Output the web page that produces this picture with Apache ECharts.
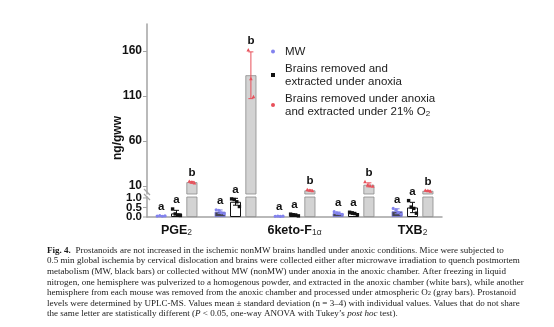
<!DOCTYPE html>
<html><head><meta charset="utf-8">
<script src="https://cdn.jsdelivr.net/npm/echarts@6/dist/echarts.min.js"></script>
<style>html,body{margin:0;padding:0;background:#fff}#c{width:554px;height:327px}</style>
</head><body><div id="c"></div>
<script>
// ---------- data ----------
const categories = ['PGE2', 'PGD2', '6keto-F1α', 'PGF2α', 'TXB2'];
const categoryRich = ['{n|PGE}{s|2}', '{n|PGD}{s|2}', '{n|6keto-F}{s|1α}', '{n|PGF}{s|2α}', '{n|TXB}{s|2}'];
const seriesNames = ['MW', 'Brains removed and\nextracted under anoxia', 'Brains removed under anoxia\nand extracted under 21% O2'];

const mwMean = [0.055, 0.28, 0.04, 0.20, 0.30];
const mwSD = [0.013, 0.09, 0.01, 0.06, 0.13];
const mwPoints = [[0.05, 0.07, 0.04, 0.06], [0.38, 0.35, 0.22, 0.18], [0.04, 0.05, 0.03, 0.05], [0.28, 0.22, 0.18, 0.14], [0.45, 0.38, 0.25, 0.15]];

const anoxMean = [0.19, 0.80, 0.11, 0.19, 0.50];
const anoxSD = [0.16, 0.18, 0.04, 0.05, 0.27];
const anoxPoints = [[0.42, 0.16, 0.10, 0.08], [0.95, 0.92, 0.80, 0.55], [0.15, 0.12, 0.10, 0.06], [0.25, 0.22, 0.18, 0.12], [0.86, 0.52, 0.45, 0.20]];

const o2Mean = [14.1, 133, 5.0, 11.2, 4.5];
const o2SD = [0.9, 26, 0.6, 2.2, 0.5];
const o2Points = [[15.0, 14.0, 13.2], [161, 129, 109], [5.6, 5.0, 4.4], [14.5, 11.0, 10.0, 9.5], [5.0, 4.5, 4.0]];

const letters = [['a', 'a', 'b'], ['a', 'a', 'b'], ['a', 'a', 'b'], ['a', 'a', 'b'], ['a', 'a', 'b']];

const upperTicks = [10, 60, 110, 160];
const lowerTicks = [0, 0.5, 1.0];
const UPPER_MIN = 1, UPPER_MAX = 190, LOWER_MAX = 1.05;

const captionLines = [
  '{b|Fig. 4.}  Prostanoids are not increased in the ischemic nonMW brains handled under anoxic conditions. Mice were subjected to',
  '0.5 min global ischemia by cervical dislocation and brains were collected either after microwave irradiation to quench postmortem',
  'metabolism (MW, black bars) or collected without MW (nonMW) under anoxia in the anoxic chamber. After freezing in liquid',
  'nitrogen, one hemisphere was pulverized to a homogenous powder, and extracted in the anoxic chamber (white bars), while another',
  'hemisphere from each mouse was removed from the anoxic chamber and processed under atmospheric O{sub|2} (gray bars). Prostanoid',
  'levels were determined by UPLC-MS. Values mean ± standard deviation (n = 3–4) with individual values. Values that do not share',
  'the same letter are statistically different ({i|P} < 0.05, one-way ANOVA with Tukey\u2019s {i|post hoc} test).'
];

// ---------- styling ----------
const BAR_W = 11, BAR_GAP = '40%';
const AXIS_COLOR = '#a3a3a3';
const barStyles = [
  { color: '#45454f', borderColor: '#7d7de3', borderWidth: 0.8 },
  { color: '#ffffff', borderColor: '#111111', borderWidth: 1 },
  { color: '#d3d3d3', borderColor: '#8a8a8a', borderWidth: 0.8 }
];
const pointColors = ['#8282ee', '#111111', '#e8505a'];
const errColors = ['#7d7de3', '#111111', '#e8505a'];
const CAP_FS = 9.05;
const TICK_FONT = 'bold 11.5px "Liberation Sans", Arial';

function errorRender(k, means, sds, points, lowClamp) {
  return function (params, api) {
    const i = params.dataIndex;
    const layout = api.barLayout({ barWidth: BAR_W, barGap: BAR_GAP, count: 3 });
    const off = layout[k].offsetCenter;
    const cx = api.coord([i, means[i]])[0] + off;
    const yHi = api.coord([i, means[i] + sds[i]])[1];
    const yLo = api.coord([i, Math.max(means[i] - sds[i], lowClamp)])[1];
    const col = errColors[k];
    const ch = [];
    ch.push({ type: 'line', shape: { x1: cx, y1: yLo, x2: cx, y2: yHi }, style: { stroke: col, lineWidth: 1 } });
    ch.push({ type: 'line', shape: { x1: cx - 2.5, y1: yHi, x2: cx + 2.5, y2: yHi }, style: { stroke: col, lineWidth: 1 } });
    ch.push({ type: 'line', shape: { x1: cx - 2.5, y1: yLo, x2: cx + 2.5, y2: yLo }, style: { stroke: col, lineWidth: 1 } });
    const pts = points[i];
    const n = pts.length;
    let top = means[i] + sds[i];
    pts.forEach(function (v, j) {
      top = Math.max(top, v);
      const px = cx + (j - (n - 1) / 2) * 2.6;
      const py = api.coord([i, v])[1];
      if (k === 0) {
        ch.push({ type: 'circle', shape: { cx: px, cy: py, r: 1.6 }, style: { fill: pointColors[k] } });
      } else if (k === 1) {
        ch.push({ type: 'rect', shape: { x: px - 1.7, y: py - 1.7, width: 3.4, height: 3.4 }, style: { fill: pointColors[k] } });
      } else {
        ch.push({ type: 'polygon', shape: { points: [[px, py - 2], [px - 1.8, py + 1.4], [px + 1.8, py + 1.4]] }, style: { fill: pointColors[k] } });
      }
    });
    const yTop = api.coord([i, top])[1];
    ch.push({ type: 'text', x: cx, y: yTop - 3, style: { text: letters[i][k], fill: '#111', font: 'bold 11.5px "Liberation Sans", Arial', align: 'center', verticalAlign: 'bottom' } });
    return { type: 'group', children: ch };
  };
}

// tick labels of the lower (0-1) segment, positioned through the axis scale
function lowerTickRender(params, api) {
  const v = lowerTicks[params.dataIndex];
  const p = api.coord([0, v]);
  const band = api.size([1, 0])[0];
  const x0 = p[0] - band / 2;
  return { type: 'group', children: [
    { type: 'line', shape: { x1: x0 - 4, y1: p[1], x2: x0, y2: p[1] }, style: { stroke: AXIS_COLOR, lineWidth: 1 } },
    { type: 'text', x: x0 - 5, y: p[1], style: { text: v.toFixed(1), font: TICK_FONT, fill: '#111', align: 'right', verticalAlign: 'middle' } }
  ] };
}

const chart = echarts.init(document.getElementById('c'), null, { renderer: 'canvas' });

const allMeans = [mwMean, anoxMean, o2Mean];
const series = [];
allMeans.forEach(function (m, k) {
  series.push({ type: 'bar', name: seriesNames[k], xAxisIndex: 1, yAxisIndex: 1, data: m, barWidth: BAR_W, barGap: BAR_GAP, clip: true, itemStyle: barStyles[k], silent: true });
});
allMeans.forEach(function (m, k) {
  series.push({ type: 'bar', name: seriesNames[k], xAxisIndex: 0, yAxisIndex: 0, data: m.map(function (v) { return v > LOWER_MAX ? v : '-'; }), barWidth: BAR_W, barGap: BAR_GAP, clip: true, itemStyle: barStyles[k], silent: true });
});
series.push({ type: 'custom', xAxisIndex: 1, yAxisIndex: 1, z: 5, data: categories.map(function (c, i) { return [i, mwMean[i]]; }), renderItem: errorRender(0, mwMean, mwSD, mwPoints, 0) });
series.push({ type: 'custom', xAxisIndex: 1, yAxisIndex: 1, z: 5, data: categories.map(function (c, i) { return [i, anoxMean[i]]; }), renderItem: errorRender(1, anoxMean, anoxSD, anoxPoints, 0) });
series.push({ type: 'custom', xAxisIndex: 0, yAxisIndex: 0, z: 5, data: categories.map(function (c, i) { return [i, o2Mean[i]]; }), renderItem: errorRender(2, o2Mean, o2SD, o2Points, UPPER_MIN) });
series.push({ type: 'custom', xAxisIndex: 1, yAxisIndex: 1, z: 6, silent: true, data: lowerTicks.map(function (v) { return [0, v]; }), renderItem: lowerTickRender });

const captionRich = {
  b: { fontFamily: '"Liberation Serif", serif', fontSize: CAP_FS, fontWeight: 'bold', fill: '#1a1a1a' },
  i: { fontFamily: '"Liberation Serif", serif', fontSize: CAP_FS, fontStyle: 'italic', fill: '#1a1a1a' },
  sub: { fontFamily: '"Liberation Serif", serif', fontSize: 6.5, fill: '#1a1a1a', verticalAlign: 'bottom', lineHeight: 8 }
};

const option = {
  animation: false,
  backgroundColor: '#ffffff',
  grid: [
    { left: 147, top: 24, width: 295, height: 170 },
    { left: 147, top: 197, width: 295, height: 20 }
  ],
  xAxis: [
    { type: 'category', gridIndex: 0, data: categories, show: false },
    { type: 'category', gridIndex: 1, data: categories,
      axisLine: { lineStyle: { color: AXIS_COLOR, width: 1.5 } },
      axisTick: { show: false },
      axisLabel: { margin: 5, color: '#111', formatter: function (v, idx) { return categoryRich[idx]; },
        rich: {
          n: { fontFamily: '"Liberation Sans", Arial', fontSize: 12.5, fontWeight: 'bold', color: '#111', lineHeight: 15, verticalAlign: 'bottom' },
          s: { fontFamily: '"Liberation Sans", Arial', fontSize: 8.5, color: '#333', lineHeight: 11, verticalAlign: 'bottom', padding: [4, 0, 0, 0] }
        } } }
  ],
  yAxis: [
    { type: 'value', gridIndex: 0, min: UPPER_MIN, max: UPPER_MAX,
      axisLine: { show: true, lineStyle: { color: AXIS_COLOR, width: 1.5 } },
      axisTick: { show: true, length: 4, customValues: upperTicks, lineStyle: { color: AXIS_COLOR } },
      axisLabel: { customValues: upperTicks, margin: 5, color: '#111', fontWeight: 'bold', fontSize: 12, fontFamily: '"Liberation Sans", Arial' },
      splitLine: { show: false } },
    { type: 'value', gridIndex: 1, min: 0, max: LOWER_MAX,
      axisLine: { show: true, lineStyle: { color: AXIS_COLOR, width: 1.5 } },
      axisTick: { show: false },
      axisLabel: { show: false },
      splitLine: { show: false } }
  ],
  legend: {
    orient: 'vertical', left: 266, top: 40, itemWidth: 4, itemHeight: 4, itemGap: 4,
    selectedMode: false,
    data: [
      { name: seriesNames[0], icon: 'circle', itemStyle: { color: pointColors[0], borderWidth: 0 } },
      { name: seriesNames[1], icon: 'rect', itemStyle: { color: '#111', borderWidth: 0 } },
      { name: seriesNames[2], icon: 'circle', itemStyle: { color: pointColors[2], borderWidth: 0 } }
    ],
    formatter: function (name) { return name.replace('O2', 'O{sub|2}'); },
    textStyle: { fontFamily: '"Liberation Sans", Arial', fontSize: 11.5, color: '#222', lineHeight: 13, padding: [0, 0, 0, 5],
      rich: { sub: { fontFamily: '"Liberation Sans", Arial', fontSize: 8, color: '#222', verticalAlign: 'bottom', lineHeight: 9 } } }
  },
  graphic: [
    { type: 'text', x: 118, y: 138, rotation: Math.PI / 2,
      style: { text: 'ng/gww', font: 'bold 12px "Liberation Sans", Arial', fill: '#111', align: 'center', verticalAlign: 'middle' } },
    { type: 'line', shape: { x1: 144, y1: 189, x2: 150, y2: 195 }, style: { stroke: AXIS_COLOR, lineWidth: 1.2 } },
    { type: 'line', shape: { x1: 144, y1: 194, x2: 150, y2: 200 }, style: { stroke: AXIS_COLOR, lineWidth: 1.2 } }
  ].concat(captionLines.map(function (t, i) {
    return { type: 'text', x: 47, y: 246 + i * 10.55,
      style: { text: t, fontFamily: '"Liberation Serif", serif', fontSize: CAP_FS, fill: '#1a1a1a', rich: captionRich } };
  })),
  series: series
};
chart.setOption(option);
</script>
</body></html>
